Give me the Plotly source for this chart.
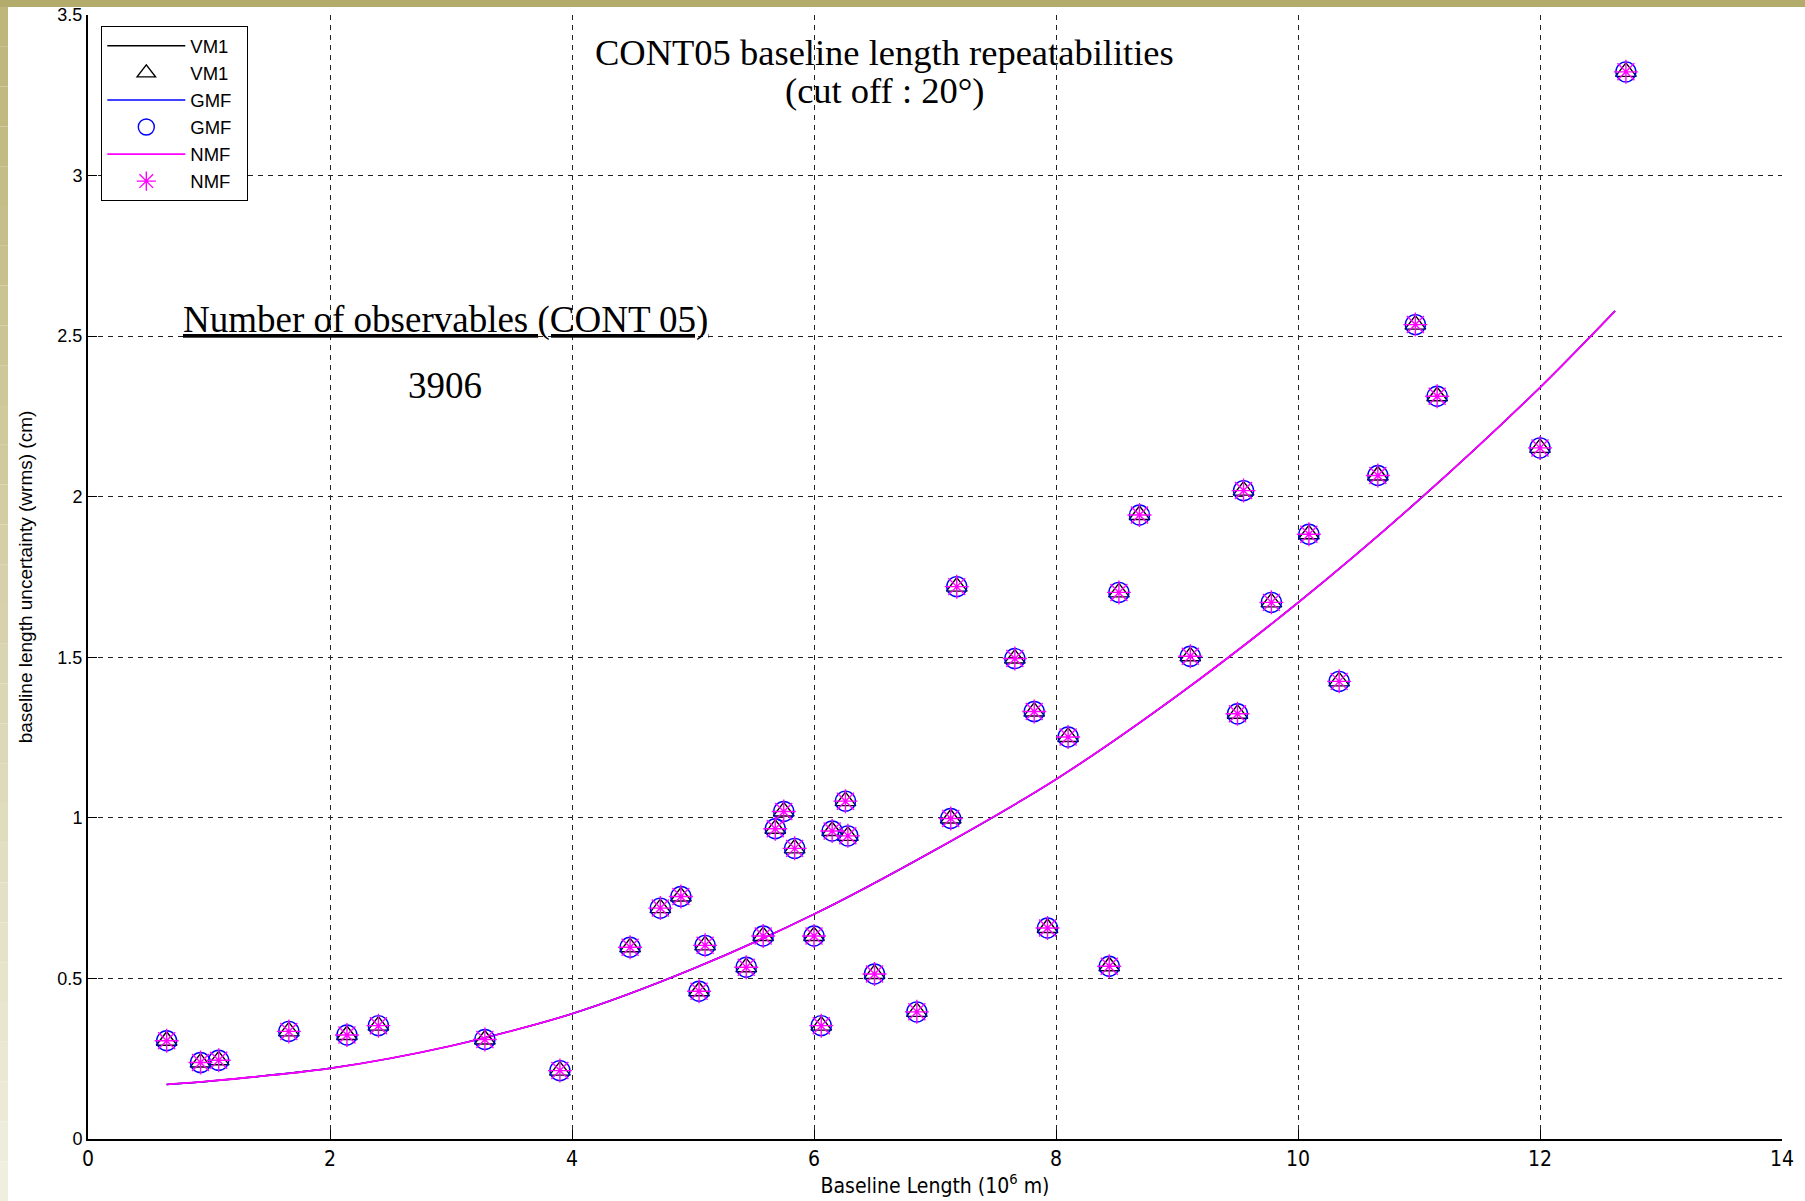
import plotly.graph_objects as go

# ---- data ----
baseline_x = [0.65, 0.93, 1.08, 1.66, 2.14, 2.40, 3.28, 3.90, 4.48, 4.73, 4.90, 5.05, 5.10,
              5.44, 5.58, 5.68, 5.75, 5.84, 6.00, 6.06, 6.15, 6.26, 6.28, 6.50, 6.85, 7.13,
              7.18, 7.66, 7.82, 7.93, 8.10, 8.44, 8.52, 8.69, 9.11, 9.50, 9.55, 9.78, 10.09,
              10.34, 10.66, 10.97, 11.15, 12.00, 12.71]
wrms_vm1 = [0.306, 0.238, 0.245, 0.335, 0.324, 0.353, 0.310, 0.213, 0.597, 0.719, 0.755, 0.460,
            0.603, 0.535, 0.632, 0.966, 1.020, 0.905, 0.632, 0.353, 0.959, 1.052, 0.944, 0.514,
            0.396, 0.998, 1.720, 1.496, 1.331, 0.657, 1.252, 0.538, 1.702, 1.943, 1.503, 1.324,
            2.019, 1.671, 1.883, 1.425, 2.066, 2.536, 2.313, 2.152, 3.323]
wrms_gmf = list(wrms_vm1)
wrms_nmf = list(wrms_vm1)

fit_x = [0.65, 1.0, 2.0, 3.0, 4.0, 5.0, 6.0, 7.0, 8.0, 9.0, 10.0, 11.0, 12.0, 12.62]
fit_vm1 = [0.170, 0.180, 0.220, 0.290, 0.390, 0.530, 0.700, 0.900, 1.120, 1.380, 1.670, 1.990, 2.340, 2.578]
fit_gmf = list(fit_vm1)
fit_nmf = list(fit_vm1)

series_names = ["VM1", "GMF", "NMF"]
x_ticks = [0, 2, 4, 6, 8, 10, 12, 14]
y_ticks = [0, 0.5, 1, 1.5, 2, 2.5, 3, 3.5]

# ---- layout geometry ----
W, H = 1805, 1201
ML, MR, MT, MB = 88, 23, 15, 62
PW, PH = W - ML - MR, H - MT - MB

pad = "\u00a0\u00a0"
fig = go.Figure()

# lines
fig.add_trace(go.Scatter(x=fit_x, y=fit_vm1, mode="lines", name=series_names[0] + pad,
                         line=dict(color="black", width=1.5, shape="spline", smoothing=0.8), legendrank=1))
fig.add_trace(go.Scatter(x=fit_x, y=fit_gmf, mode="lines", name=series_names[1] + pad,
                         line=dict(color="#0000ff", width=1.5, shape="spline", smoothing=0.8), legendrank=3))
fig.add_trace(go.Scatter(x=fit_x, y=fit_nmf, mode="lines", name=series_names[2] + pad,
                         line=dict(color="#ff00ff", width=1.8, shape="spline", smoothing=0.8), legendrank=5))
# markers
fig.add_trace(go.Scatter(x=baseline_x, y=wrms_vm1, mode="markers", name=series_names[0] + pad,
                         marker=dict(symbol="triangle-up-open", size=18, color="black",
                                     line=dict(width=1.4, color="black")), legendrank=2))
fig.add_trace(go.Scatter(x=baseline_x, y=wrms_gmf, mode="markers", name=series_names[1] + pad,
                         marker=dict(symbol="circle-open", size=20, color="#0000ff",
                                     line=dict(width=1.4, color="#0000ff")), legendrank=4))
fig.add_trace(go.Scatter(x=baseline_x, y=wrms_nmf, mode="markers", name=series_names[2] + pad,
                         marker=dict(symbol="asterisk-open", size=20, color="#ff00ff",
                                     line=dict(width=1.4, color="#ff00ff")), legendrank=6))

# olive frame bands
shapes = []
px = lambda p: (p - ML) / PW
py = lambda p: (H - MB - p) / PH
shapes.append(dict(type="rect", xref="paper", yref="paper", x0=px(0), x1=px(W), y0=py(7), y1=py(0),
                   fillcolor="#b3ab6c", line=dict(width=0), layer="below"))
n = 30
for i in range(n):
    y0p = 7 + (H - 7) * i / n
    y1p = 7 + (H - 7) * (i + 1) / n
    t = i / (n - 1)
    r = int(190 + (240 - 190) * t)
    g = int(182 + (238 - 182) * t)
    b = int(122 + (222 - 122) * t)
    shapes.append(dict(type="rect", xref="paper", yref="paper", x0=px(0), x1=px(8),
                       y0=py(y1p), y1=py(y0p), fillcolor=f"rgb({r},{g},{b})",
                       line=dict(width=0), layer="below"))

serif = "Liberation Serif, Times New Roman, serif"
annotations = [
    dict(x=6.58, y=3.382, xref="x", yref="y", text="CONT05 baseline length repeatabilities",
         showarrow=False, font=dict(family=serif, size=36.5, color="black"), xanchor="center", yanchor="middle"),
    dict(x=6.58, y=3.264, xref="x", yref="y", text="(cut off : 20°)",
         showarrow=False, font=dict(family=serif, size=36.5, color="black"), xanchor="center", yanchor="middle"),
    dict(x=0.77, y=2.551, xref="x", yref="y", text="<u>Number of observables (CONT 05)</u>",
         showarrow=False, font=dict(family=serif, size=37, color="black"), xanchor="left", yanchor="middle"),
    dict(x=2.95, y=2.345, xref="x", yref="y", text="3906",
         showarrow=False, font=dict(family=serif, size=37, color="black"), xanchor="center", yanchor="middle"),
]

narrow = "Liberation Sans Narrow, DejaVu Sans Condensed, Arial, sans-serif"
regular = "Liberation Sans, Arial, sans-serif"

fig.update_layout(
    width=W, height=H,
    margin=dict(l=ML, r=MR, t=MT, b=MB, pad=0, autoexpand=False),
    paper_bgcolor="white", plot_bgcolor="white",
    shapes=shapes, annotations=annotations,
    showlegend=True,
    legend=dict(x=px(101), y=py(26), xanchor="left", yanchor="top",
                bgcolor="white", bordercolor="black", borderwidth=1.3,
                font=dict(family=regular, size=18.5, color="black"),
                itemwidth=78, tracegroupgap=0, traceorder="normal"),
    xaxis=dict(range=[0, 14], tickvals=x_ticks, showgrid=True, gridcolor="#222",
               griddash="5px,5px", gridwidth=1.2, zeroline=False, showline=True, automargin=False,
               linecolor="black", linewidth=2, ticks="inside", ticklen=9, tickcolor="black",
               tickfont=dict(family=narrow, size=21, color="black"),
               title=dict(text="Baseline Length (10<sup>6</sup> m)", standoff=8,
                          font=dict(family=narrow, size=21, color="black"))),
    yaxis=dict(range=[0, 3.5], tickvals=y_ticks, showgrid=True, gridcolor="#222",
               griddash="5px,5px", gridwidth=1.2, zeroline=False, showline=True, automargin=False,
               linecolor="black", linewidth=2, ticks="inside", ticklen=9, tickcolor="black",
               tickfont=dict(family=regular, size=18, color="black"),
               title=dict(text="baseline length uncertainty (wrms) (cm)", standoff=20,
                          font=dict(family=regular, size=19, color="black"))),
)

fig.write_html("out.html")
